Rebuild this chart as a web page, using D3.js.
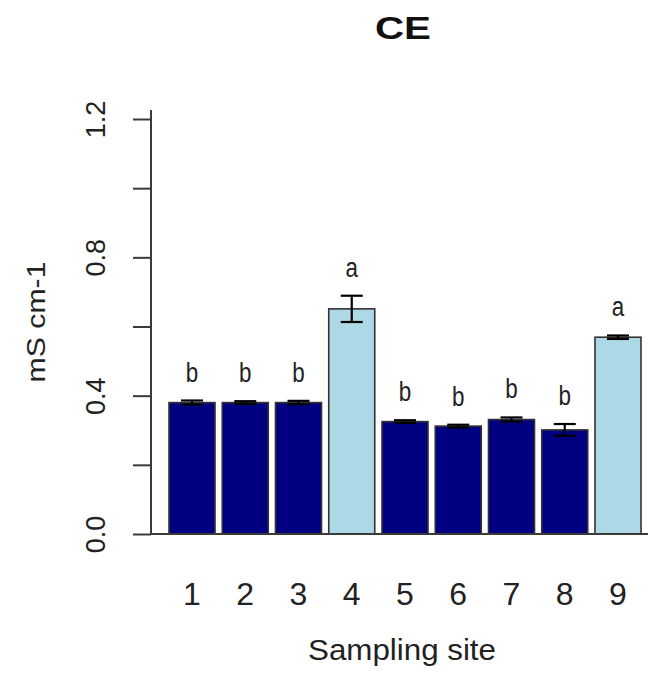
<!DOCTYPE html>
<html>
<head>
<meta charset="utf-8">
<script src="https://cdn.jsdelivr.net/npm/d3@7"></script>
<style>
  body { margin: 0; background: #fff; }
  text { font-family: "Liberation Sans", Arial, sans-serif; }
</style>
</head>
<body>
<div class="d3Chart"></div>
<script>
// data
var sites = ["1", "2", "3", "4", "5", "6", "7", "8", "9"];
var means = [0.380, 0.380, 0.380, 0.651, 0.325, 0.312, 0.331, 0.301, 0.569];
var errors = [0.006, 0.004, 0.005, 0.038, 0.004, 0.004, 0.006, 0.017, 0.005];
var groups = ["b", "b", "b", "a", "b", "b", "b", "b", "a"];
var yTicks = [0, 0.2, 0.4, 0.6, 0.8, 1.0, 1.2];
var yTickLabels = ["0.0", "", "0.4", "", "0.8", "", "1.2"];

var width = 653;
var height = 676;
var svg = d3
  .select(".d3Chart")
  .append("svg")
  .attr("width", width)
  .attr("height", height);

// 比例尺
var x = d3.scaleBand().domain(sites).range([169, 641]).paddingInner(0.136).paddingOuter(0);
var y = d3.scaleLinear().domain([0, 1.2]).range([534, 119]);
var color = d3.scaleOrdinal().domain(["a", "b"]).range(["#ADD8E6", "#000080"]);

var axisX = 151;
var axisColor = "#3a3a3a";

// bars
svg
  .append("g")
  .selectAll("rect")
  .data(sites)
  .enter()
  .append("rect")
  .attr("x", (d) => x(d))
  .attr("y", (d, i) => y(means[i]))
  .attr("width", x.bandwidth())
  .attr("height", (d, i) => y(0) - y(means[i]))
  .attr("fill", (d, i) => color(groups[i]))
  .attr("stroke", "#333")
  .attr("stroke-width", 1.6);

// error bars
var cap = 11;
var err = svg.append("g").attr("stroke", "#000").attr("stroke-width", 2.2);
sites.forEach(function (d, i) {
  var cx = x(d) + x.bandwidth() / 2;
  var top = y(means[i] + errors[i]);
  var bot = y(means[i] - errors[i]);
  err.append("line").attr("x1", cx).attr("x2", cx).attr("y1", top).attr("y2", bot);
  err.append("line").attr("x1", cx - cap).attr("x2", cx + cap).attr("y1", top).attr("y2", top);
  err.append("line").attr("x1", cx - cap).attr("x2", cx + cap).attr("y1", bot).attr("y2", bot);
});

// letters
svg
  .append("g")
  .selectAll("text")
  .data(sites)
  .enter()
  .append("text")
  .attr("x", (d) => x(d) + x.bandwidth() / 2)
  .attr("y", (d, i) => y(means[i] + errors[i]) - 19)
  .attr("text-anchor", "middle")
  .attr("font-size", 28)
  .attr("fill", "#222")
  .attr("transform", (d) => {
    var cx = x(d) + x.bandwidth() / 2;
    return "translate(" + cx + ",0) scale(0.8,1) translate(" + -cx + ",0)";
  })
  .text((d, i) => groups[i]);

// y axis
var yAxis = d3
  .axisLeft(y)
  .tickValues(yTicks)
  .tickSize(18)
  .tickFormat((d, i) => yTickLabels[i]);
var gy = svg.append("g").attr("transform", "translate(" + axisX + ",0)").call(yAxis);
gy.select(".domain").remove();
gy.selectAll(".tick line").attr("stroke", axisColor).attr("stroke-width", 2);
gy.selectAll(".tick text")
  .attr("transform", "rotate(-90)")
  .attr("x", 0)
  .attr("y", -46)
  .attr("dy", 0)
  .attr("text-anchor", "middle")
  .attr("font-size", 27)
  .attr("font-family", '"Liberation Sans", Arial, sans-serif')
  .attr("fill", "#222");
gy.append("line")
  .attr("x1", 0).attr("x2", 0)
  .attr("y1", y(0)).attr("y2", 110)
  .attr("stroke", axisColor).attr("stroke-width", 2);

// x axis
var xAxis = d3.axisBottom(x).tickSize(0);
var gx = svg.append("g").attr("transform", "translate(0," + y(0) + ")").call(xAxis);
gx.select(".domain").remove();
gx.selectAll(".tick text")
  .attr("y", 71)
  .attr("dy", 0)
  .attr("font-size", 32)
  .attr("font-family", '"Liberation Sans", Arial, sans-serif')
  .attr("fill", "#222");
svg.append("line")
  .attr("x1", axisX).attr("x2", 648)
  .attr("y1", y(0)).attr("y2", y(0))
  .attr("stroke", axisColor).attr("stroke-width", 2);

// titles
svg.append("text")
  .attr("x", 403).attr("y", 39)
  .attr("text-anchor", "middle")
  .attr("font-size", 31)
  .attr("font-weight", "bold")
  .attr("fill", "#111")
  .attr("textLength", 56)
  .attr("lengthAdjust", "spacingAndGlyphs")
  .text("CE");

svg.append("text")
  .attr("x", 402).attr("y", 660)
  .attr("text-anchor", "middle")
  .attr("font-size", 29)
  .attr("fill", "#222")
  .attr("textLength", 188)
  .attr("lengthAdjust", "spacingAndGlyphs")
  .text("Sampling site");

svg.append("text")
  .attr("transform", "translate(45,322) rotate(-90)")
  .attr("text-anchor", "middle")
  .attr("font-size", 26)
  .attr("fill", "#222")
  .attr("textLength", 121)
  .attr("lengthAdjust", "spacingAndGlyphs")
  .text("mS cm-1");
</script>
</body>
</html>
